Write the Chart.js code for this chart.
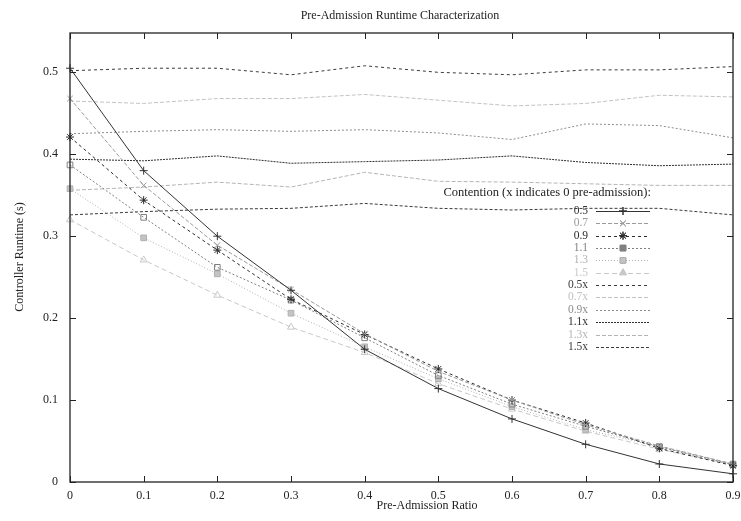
<!DOCTYPE html>
<html>
<head>
<meta charset="utf-8">
<script src="https://cdn.jsdelivr.net/npm/chart.js@4.4.1/dist/chart.umd.min.js"></script>
<style>
  html, body { margin: 0; padding: 0; background: #fff; }
  canvas { display: block; }
</style>
</head>
<body>
<canvas id="runtime-chart" width="741" height="521"></canvas>
<script>
/*global Chart: true*/

// pre-admission ratio on the x axis
var ratio = [0, 0.1, 0.2, 0.3, 0.4, 0.5, 0.6, 0.7, 0.8, 0.9];
var yTicks = [0, 0.1, 0.2, 0.3, 0.4, 0.5];

// controller runtime (s) with pre-admission, one list per contention level
var run05 = [0.505, 0.380, 0.300, 0.234, 0.162, 0.114, 0.077, 0.046, 0.022, 0.010];
var run07 = [0.468, 0.362, 0.289, 0.235, 0.181, 0.135, 0.100, 0.070, 0.044, 0.022];
var run09 = [0.421, 0.344, 0.283, 0.223, 0.180, 0.138, 0.100, 0.072, 0.041, 0.020];
var run11 = [0.387, 0.323, 0.262, 0.222, 0.176, 0.130, 0.095, 0.068, 0.043, 0.021];
var run13 = [0.358, 0.298, 0.254, 0.206, 0.165, 0.126, 0.092, 0.064, 0.043, 0.022];
var run15 = [0.320, 0.271, 0.228, 0.189, 0.158, 0.120, 0.089, 0.062, 0.040, 0.021];

// same contention levels, no pre-admission
var run05x = [0.502, 0.505, 0.505, 0.497, 0.508, 0.500, 0.497, 0.503, 0.503, 0.507];
var run07x = [0.465, 0.462, 0.468, 0.468, 0.473, 0.466, 0.459, 0.462, 0.472, 0.470];
var run09x = [0.425, 0.428, 0.430, 0.428, 0.430, 0.426, 0.418, 0.437, 0.435, 0.420];
var run11x = [0.394, 0.392, 0.398, 0.389, 0.391, 0.393, 0.398, 0.390, 0.386, 0.388];
var run13x = [0.356, 0.360, 0.366, 0.360, 0.378, 0.367, 0.366, 0.364, 0.362, 0.362];
var run15x = [0.326, 0.330, 0.333, 0.334, 0.340, 0.334, 0.332, 0.334, 0.334, 0.326];

(function () {
    'use strict';

    var FONT = '"Liberation Serif", "DejaVu Serif", serif';

    function pts(values) {
        return values.map(function (v, i) { return { x: ratio[i], y: v }; });
    }

    function series(label, values, color, dash, marker, fill) {
        return {
            label: label,
            data: pts(values),
            borderColor: color,
            backgroundColor: fill || 'rgba(0,0,0,0)',
            borderWidth: 1,
            borderDash: dash,
            pointStyle: marker || false,
            pointRadius: marker ? 4 : 0,
            pointBorderColor: color,
            pointBorderWidth: 1,
            tension: 0,
            clip: false
        };
    }

    var datasets = [
        series('0.5', run05, '#333', [], 'cross'),
        series('0.7', run07, '#9a9a9a', [4, 2], 'crossRot'),
        series('0.9', run09, '#2a2a2a', [3, 3], 'star'),
        series('1.1', run11, '#808080', [2, 2], 'rect'),
        series('1.3', run13, '#b0b0b0', [1, 2], 'rect', '#c4c4c4'),
        series('1.5', run15, '#c8c8c8', [5, 3], 'triangle'),
        series('0.5x', run05x, '#3a3a3a', [3, 3]),
        series('0.7x', run07x, '#c2c2c2', [4, 2]),
        series('0.9x', run09x, '#8c8c8c', [2, 2]),
        series('1.1x', run11x, '#2e2e2e', [2, 1]),
        series('1.3x', run13x, '#b4b4b4', [4, 2]),
        series('1.5x', run15x, '#3a3a3a', [3, 2])
    ];

    // box, inward ticks, titles and the key, gnuplot style
    var frame = {
        id: 'frame',
        afterDraw: function (chart) {
            var ctx = chart.ctx, a = chart.chartArea;
            var xs = chart.scales.x, ys = chart.scales.y;
            ctx.save();
            ctx.strokeStyle = '#222';
            ctx.lineWidth = 1.3;
            ctx.strokeRect(a.left, a.top, a.right - a.left, a.bottom - a.top);

            ctx.lineWidth = 1;
            ctx.beginPath();
            ratio.forEach(function (v) {
                var px = Math.round(xs.getPixelForValue(v)) + 0.5;
                ctx.moveTo(px, a.bottom); ctx.lineTo(px, a.bottom - 6);
                ctx.moveTo(px, a.top); ctx.lineTo(px, a.top + 6);
            });
            yTicks.forEach(function (v) {
                var py = Math.round(ys.getPixelForValue(v)) + 0.5;
                ctx.moveTo(a.left, py); ctx.lineTo(a.left + 6, py);
                ctx.moveTo(a.right, py); ctx.lineTo(a.right - 6, py);
            });
            ctx.stroke();

            ctx.fillStyle = '#222';
            ctx.font = '12px ' + FONT;
            ctx.textAlign = 'center';
            ctx.textBaseline = 'middle';
            ctx.fillText('Pre-Admission Runtime Characterization', 400, 16);
            ctx.fillText('Pre-Admission Ratio', 427, 506);
            ctx.save();
            ctx.translate(20, 257);
            ctx.rotate(-Math.PI / 2);
            ctx.fillText('Controller Runtime (s)', 0, 0);
            ctx.restore();

            // key
            ctx.font = '12.5px ' + FONT;
            ctx.textAlign = 'right';
            ctx.fillText('Contention (x indicates 0 pre-admission):', 651, 193);
            ctx.font = '11.5px ' + FONT;
            chart.data.datasets.forEach(function (ds, i) {
                var y = 211 + i * 12.35;
                ctx.fillStyle = ds.borderColor;
                ctx.fillText(ds.label, 588, y);
                ctx.strokeStyle = ds.borderColor;
                ctx.lineWidth = 1;
                ctx.setLineDash(ds.borderDash);
                ctx.beginPath();
                ctx.moveTo(596, Math.round(y) + 0.5);
                ctx.lineTo(650, Math.round(y) + 0.5);
                ctx.stroke();
                ctx.setLineDash([]);
                if (ds.pointStyle) {
                    Chart.helpers.drawPoint(ctx, {
                        pointStyle: ds.pointStyle,
                        radius: ds.pointRadius,
                        borderWidth: 1,
                        rotation: 0
                    }, 623, y);
                    if (ds.backgroundColor !== 'rgba(0,0,0,0)') {
                        ctx.fillStyle = ds.backgroundColor;
                        ctx.fill();
                    }
                    ctx.stroke();
                }
            });
            ctx.restore();
        }
    };

    new Chart(document.getElementById('runtime-chart').getContext('2d'), {
        type: 'line',
        data: { datasets: datasets },
        options: {
            responsive: false,
            animation: false,
            devicePixelRatio: 1,
            layout: { padding: { top: 33, right: 8, left: 0, bottom: 0 } },
            plugins: {
                legend: { display: false },
                tooltip: { enabled: false }
            },
            scales: {
                x: {
                    type: 'linear',
                    min: 0,
                    max: 0.9,
                    ticks: {
                        stepSize: 0.1,
                        padding: 7,
                        color: '#222',
                        font: { family: FONT, size: 12 },
                        callback: function (v) { return v === 0 ? '0' : v.toFixed(1); }
                    },
                    grid: { drawOnChartArea: false, drawTicks: false },
                    border: { display: false },
                    afterFit: function (scale) {
                        scale.height = 39;
                        scale.paddingLeft = 0;
                        scale.paddingRight = 0;
                    }
                },
                y: {
                    min: 0,
                    max: 0.548,
                    ticks: {
                        stepSize: 0.1,
                        includeBounds: false,
                        padding: 12,
                        color: '#222',
                        font: { family: FONT, size: 12 },
                        callback: function (v) { return v === 0 ? '0' : v.toFixed(1); }
                    },
                    grid: { drawOnChartArea: false, drawTicks: false },
                    border: { display: false },
                    afterFit: function (scale) { scale.width = 70; }
                }
            }
        },
        plugins: [frame]
    });
})();
</script>
</body>
</html>
